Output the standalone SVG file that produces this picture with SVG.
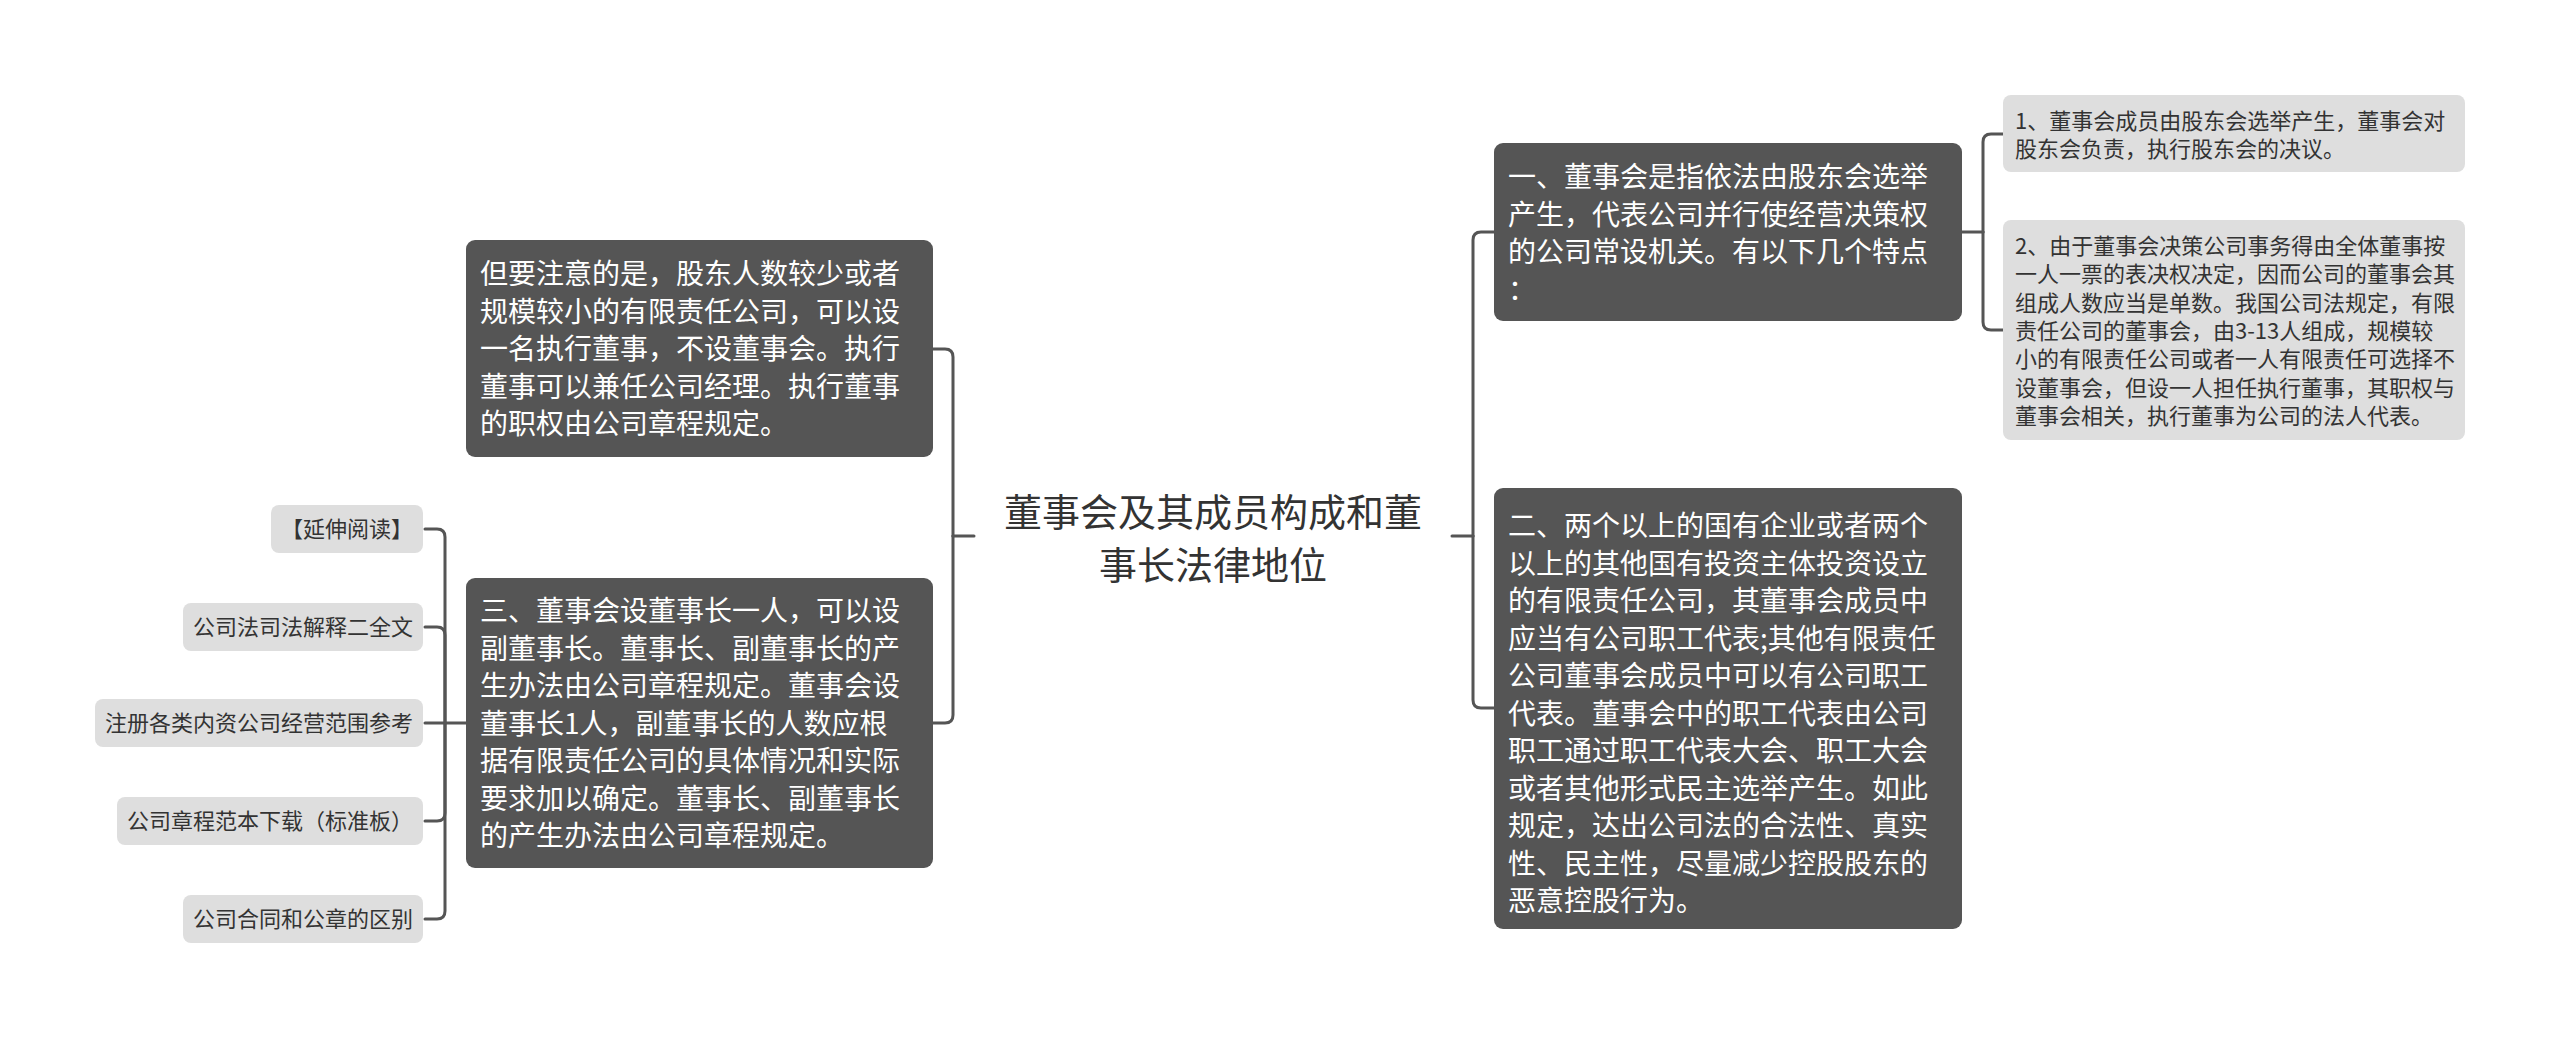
<svg xmlns="http://www.w3.org/2000/svg" width="2560" height="1039" viewBox="0 0 2560 1039">
<style>
.dark{fill:#555555;}
.light{fill:#dedede;}
.tw{fill:#ffffff;font-family:"Noto Sans CJK SC","Noto Sans",sans-serif;font-size:28px;}
.tl{fill:#333333;font-family:"Noto Sans CJK SC","Noto Sans",sans-serif;font-size:22px;}
.tc{fill:#333333;font-family:"Noto Sans CJK SC","Noto Sans",sans-serif;font-size:38px;text-anchor:middle;}
.conn{fill:none;stroke:#555555;stroke-width:3;stroke-linecap:round;}
</style>
<rect width="2560" height="1039" fill="#ffffff"/>
<g id="connectors">
<path class="conn" d="M974,536 H953"/>
<path class="conn" d="M953,536 V357 Q953,349 945,349 H933"/>
<path class="conn" d="M953,536 V715 Q953,723 945,723 H933"/>
<path class="conn" d="M1452,536 H1473"/>
<path class="conn" d="M1473,536 V240 Q1473,232 1481,232 H1494"/>
<path class="conn" d="M1473,536 V700 Q1473,708 1481,708 H1494"/>
<path class="conn" d="M1962,232 H1983"/>
<path class="conn" d="M1983,232 V142 Q1983,134 1991,134 H2003"/>
<path class="conn" d="M1983,232 V322 Q1983,330 1991,330 H2003"/>
<path class="conn" d="M466,723 H425"/>
<path class="conn" d="M445,723 V537 Q445,529 437,529 H425"/>
<path class="conn" d="M445,723 V635 Q445,627 437,627 H425"/>
<path class="conn" d="M445,723 V813 Q445,821 437,821 H425"/>
<path class="conn" d="M445,723 V911 Q445,919 437,919 H425"/>
</g>
<g id="root">
<text class="tc" x="1213" y="526">董事会及其成员构成和董</text>
<text class="tc" x="1213" y="579">事长法律地位</text>
</g>
<g id="n-note">
<rect class="dark" x="466" y="240" width="467" height="217" rx="9"/>
<text class="tw" x="480" y="284">但要注意的是，股东人数较少或者</text>
<text class="tw" x="480" y="321.5">规模较小的有限责任公司，可以设</text>
<text class="tw" x="480" y="359">一名执行董事，不设董事会。执行</text>
<text class="tw" x="480" y="396.5">董事可以兼任公司经理。执行董事</text>
<text class="tw" x="480" y="434">的职权由公司章程规定。</text>
</g>
<g id="n-three">
<rect class="dark" x="466" y="578" width="467" height="290" rx="9"/>
<text class="tw" x="480" y="621">三、董事会设董事长一人，可以设</text>
<text class="tw" x="480" y="658.5">副董事长。董事长、副董事长的产</text>
<text class="tw" x="480" y="696">生办法由公司章程规定。董事会设</text>
<text class="tw" x="480" y="733.5">董事长1人，副董事长的人数应根</text>
<text class="tw" x="480" y="771">据有限责任公司的具体情况和实际</text>
<text class="tw" x="480" y="808.5">要求加以确定。董事长、副董事长</text>
<text class="tw" x="480" y="846">的产生办法由公司章程规定。</text>
</g>
<g id="n-one">
<rect class="dark" x="1494" y="143" width="468" height="178" rx="9"/>
<text class="tw" x="1508" y="187">一、董事会是指依法由股东会选举</text>
<text class="tw" x="1508" y="224.5">产生，代表公司并行使经营决策权</text>
<text class="tw" x="1508" y="262">的公司常设机关。有以下几个特点</text>
<text class="tw" x="1508" y="299.5">：</text>
</g>
<g id="n-two">
<rect class="dark" x="1494" y="488" width="468" height="441" rx="9"/>
<text class="tw" x="1508" y="536">二、两个以上的国有企业或者两个</text>
<text class="tw" x="1508" y="573.5">以上的其他国有投资主体投资设立</text>
<text class="tw" x="1508" y="611">的有限责任公司，其董事会成员中</text>
<text class="tw" x="1508" y="648.5">应当有公司职工代表;其他有限责任</text>
<text class="tw" x="1508" y="686">公司董事会成员中可以有公司职工</text>
<text class="tw" x="1508" y="723.5">代表。董事会中的职工代表由公司</text>
<text class="tw" x="1508" y="761">职工通过职工代表大会、职工大会</text>
<text class="tw" x="1508" y="798.5">或者其他形式民主选举产生。如此</text>
<text class="tw" x="1508" y="836">规定，达出公司法的合法性、真实</text>
<text class="tw" x="1508" y="873.5">性、民主性，尽量减少控股股东的</text>
<text class="tw" x="1508" y="911">恶意控股行为。</text>
</g>
<g id="leaf-r1">
<rect class="light" x="2003" y="95" width="462" height="77" rx="8"/>
<text class="tl" x="2015" y="128.5">1、董事会成员由股东会选举产生，董事会对</text>
<text class="tl" x="2015" y="157">股东会负责，执行股东会的决议。</text>
</g>
<g id="leaf-r2">
<rect class="light" x="2003" y="220" width="462" height="220" rx="8"/>
<text class="tl" x="2015" y="254">2、由于董事会决策公司事务得由全体董事按</text>
<text class="tl" x="2015" y="282.3">一人一票的表决权决定，因而公司的董事会其</text>
<text class="tl" x="2015" y="310.6">组成人数应当是单数。我国公司法规定，有限</text>
<text class="tl" x="2015" y="338.9">责任公司的董事会，由3-13人组成，规模较</text>
<text class="tl" x="2015" y="367.2">小的有限责任公司或者一人有限责任可选择不</text>
<text class="tl" x="2015" y="395.5">设董事会，但设一人担任执行董事，其职权与</text>
<text class="tl" x="2015" y="423.8">董事会相关，执行董事为公司的法人代表。</text>
</g>
<g id="leaf-l1">
<rect class="light" x="271" y="505" width="152" height="48" rx="8"/>
<text class="tl" x="347" y="537" text-anchor="middle">【延伸阅读】</text>
</g>
<g id="leaf-l2">
<rect class="light" x="183" y="603" width="240" height="48" rx="8"/>
<text class="tl" x="303" y="635" text-anchor="middle">公司法司法解释二全文</text>
</g>
<g id="leaf-l3">
<rect class="light" x="95" y="699" width="328" height="48" rx="8"/>
<text class="tl" x="259" y="731" text-anchor="middle">注册各类内资公司经营范围参考</text>
</g>
<g id="leaf-l4">
<rect class="light" x="117" y="797" width="306" height="48" rx="8"/>
<text class="tl" x="270" y="829" text-anchor="middle">公司章程范本下载（标准板）</text>
</g>
<g id="leaf-l5">
<rect class="light" x="183" y="895" width="240" height="48" rx="8"/>
<text class="tl" x="303" y="927" text-anchor="middle">公司合同和公章的区别</text>
</g>
</svg>
